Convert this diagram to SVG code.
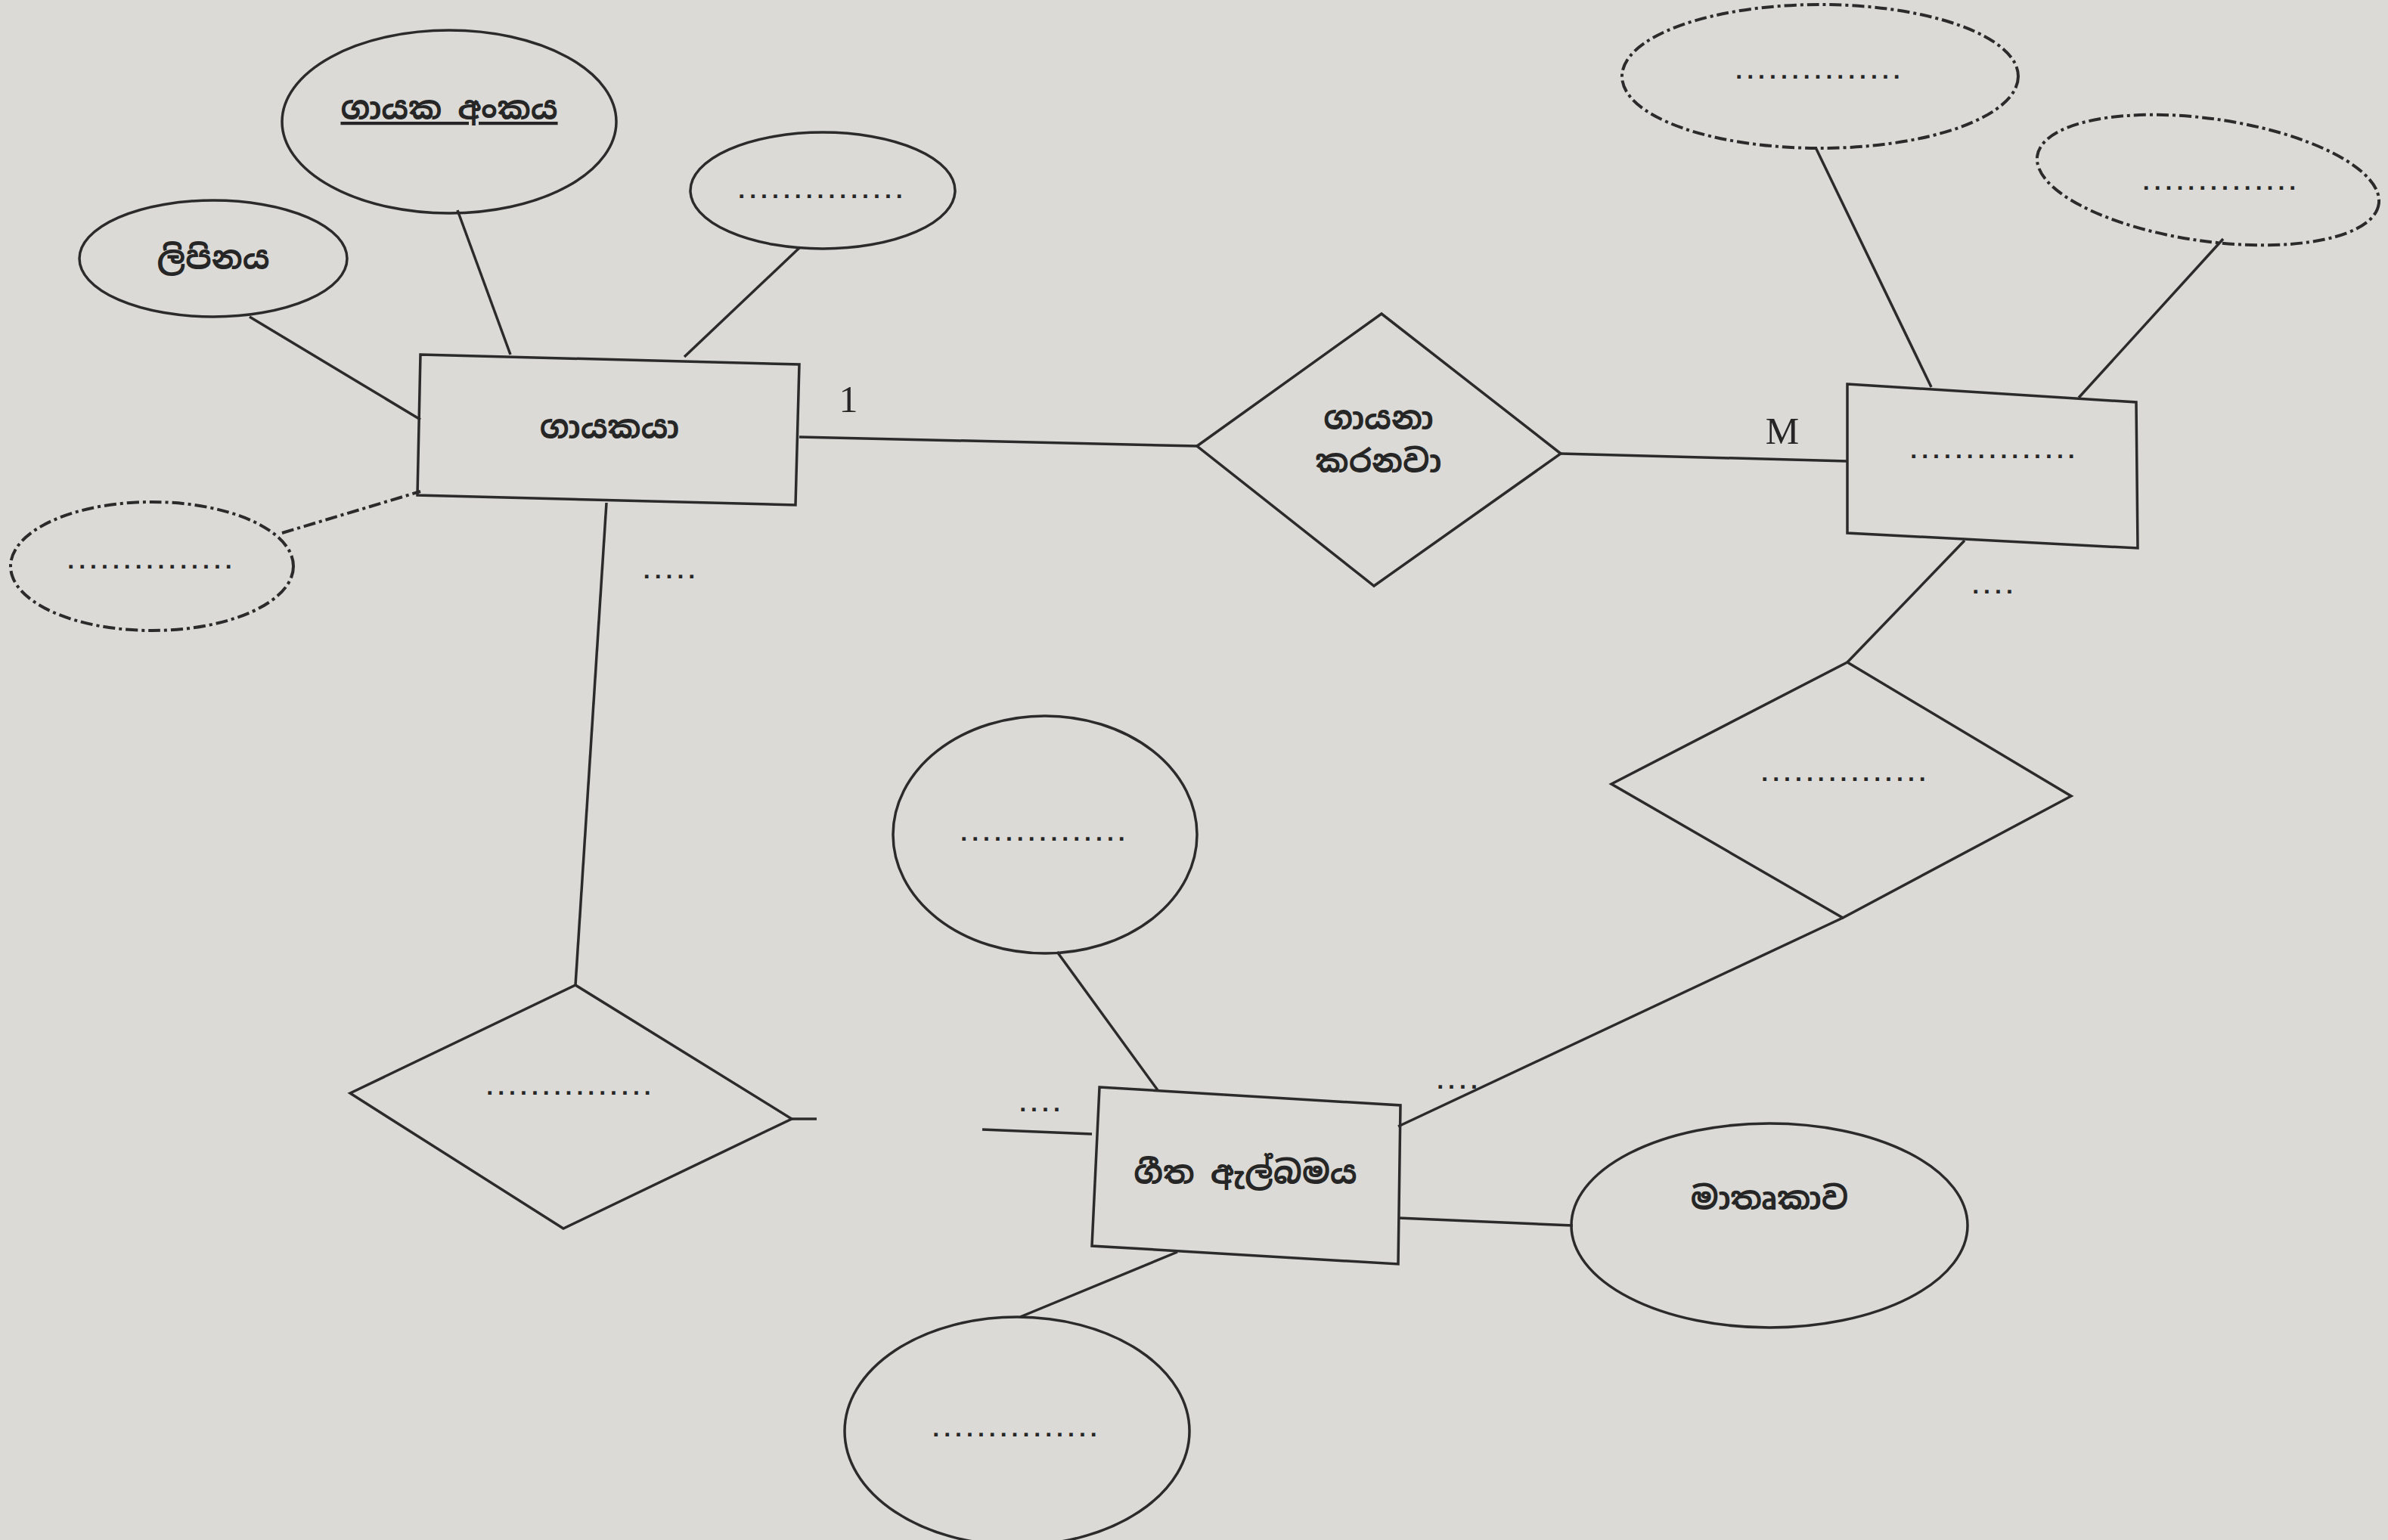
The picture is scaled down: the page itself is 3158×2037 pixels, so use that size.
<svg xmlns="http://www.w3.org/2000/svg" width="3158" height="2037" viewBox="0 0 3158 2037">
<style>
.s{fill:none;stroke:#2b2b2b;stroke-width:3.5}
.d{fill:none;stroke:#2b2b2b;stroke-width:4;stroke-dasharray:16 5 4 5}
.t{font-family:"Noto Sans Sinhala","Noto Serif Sinhala","Noto Sans",sans-serif;font-size:42px;fill:#262626;text-anchor:middle;font-weight:bold}
.p{font-family:"Liberation Sans",sans-serif;font-size:32px;fill:#262626;text-anchor:middle;letter-spacing:6px;font-weight:bold}
.l{font-family:"Liberation Serif",serif;font-size:50px;fill:#262626;text-anchor:middle}
</style>
<rect width="3158" height="2037" fill="#dbdad7"/>
<g id="connectors">
<line class="s" x1="605" y1="278" x2="675" y2="469"/>
<line class="s" x1="330" y1="419" x2="556" y2="555"/>
<line class="s" x1="1058" y1="327" x2="905" y2="472"/>
<line class="d" x1="373" y1="705" x2="556" y2="650"/>
<line class="s" x1="1057" y1="578" x2="1583" y2="590"/>
<line class="s" x1="2064" y1="600" x2="2443" y2="610"/>
<line class="s" x1="2401" y1="195" x2="2554" y2="512"/>
<line class="s" x1="2940" y1="316" x2="2749" y2="526"/>
<line class="s" x1="2598" y1="715" x2="2443" y2="876"/>
<line class="s" x1="2437" y1="1214" x2="1849" y2="1490"/>
<line class="s" x1="1398" y1="1259" x2="1531" y2="1442"/>
<line class="s" x1="1557" y1="1656" x2="1349" y2="1742"/>
<line class="s" x1="1849" y1="1611" x2="2080" y2="1621"/>
<line class="s" x1="1444" y1="1500" x2="1299" y2="1494"/>
<line class="s" x1="1047" y1="1480" x2="1080" y2="1480"/>
<line class="s" x1="802" y1="665" x2="761" y2="1303"/>
</g>
<g id="attr-singer-no">
<ellipse class="s" cx="594" cy="161" rx="221" ry="121"/>
<text class="t" x="594" y="158" text-decoration="underline">ගායක අංකය</text>
</g>
<g id="attr-address">
<ellipse class="s" cx="282" cy="342" rx="177" ry="77"/>
<text class="t" x="282" y="356">ලිපිනය</text>
</g>
<g id="attr-singer-blank">
<ellipse class="s" cx="1088" cy="252" rx="175" ry="77"/>
<text class="p" x="1088" y="262">...............</text>
</g>
<g id="attr-singer-blank2">
<ellipse class="d" cx="201" cy="749" rx="187" ry="85"/>
<text class="p" x="201" y="752">...............</text>
</g>
<g id="entity-singer">
<polygon class="s" points="556,469 1057,482 1052,668 552,655"/>
<text class="t" x="806" y="580">ගායකයා</text>
</g>
<text class="l" x="1122" y="545">1</text>
<text class="p" x="888" y="765">.....</text>
<g id="rel-sings">
<polygon class="s" points="1583,590 1827,415 2064,600 1817,775"/>
<text class="t" x="1823" y="568">ගායනා</text>
<text class="t" x="1823" y="625">කරනවා</text>
</g>
<text class="l" x="2357" y="587">M</text>
<g id="entity-right">
<polygon class="s" points="2443,508 2825,532 2827,725 2443,705"/>
<text class="p" x="2638" y="606">...............</text>
</g>
<g id="attr-right1">
<ellipse class="d" cx="2407" cy="101" rx="262" ry="95"/>
<text class="p" x="2407" y="104">...............</text>
</g>
<g id="attr-right2">
<ellipse class="d" cx="2920" cy="238" rx="228" ry="81" transform="rotate(8 2920 238)"/>
<text class="p" x="2938" y="251">..............</text>
</g>
<text class="p" x="2638" y="785">....</text>
<g id="rel-right">
<polygon class="s" points="2131,1037 2443,876 2739,1053 2437,1214"/>
<text class="p" x="2441" y="1033">...............</text>
</g>
<text class="p" x="1930" y="1440">....</text>
<g id="entity-album">
<polygon class="s" points="1454,1438 1852,1462 1849,1672 1444,1648"/>
<text class="t" x="1647" y="1566">ගීත ඇල්බමය</text>
</g>
<text class="p" x="1378" y="1470">....</text>
<g id="attr-album-top">
<ellipse class="s" cx="1382" cy="1104" rx="201" ry="157"/>
<text class="p" x="1382" y="1112">...............</text>
</g>
<g id="attr-album-bottom">
<ellipse class="s" cx="1345" cy="1893" rx="228" ry="151"/>
<text class="p" x="1345" y="1900">...............</text>
</g>
<g id="attr-title">
<ellipse class="s" cx="2340" cy="1621" rx="262" ry="135"/>
<text class="t" x="2340" y="1600">මාතෘකාව</text>
</g>
<g id="rel-left">
<polygon class="s" points="463,1446 761,1303 1047,1480 745,1625"/>
<text class="p" x="755" y="1448">...............</text>
</g>
</svg>
